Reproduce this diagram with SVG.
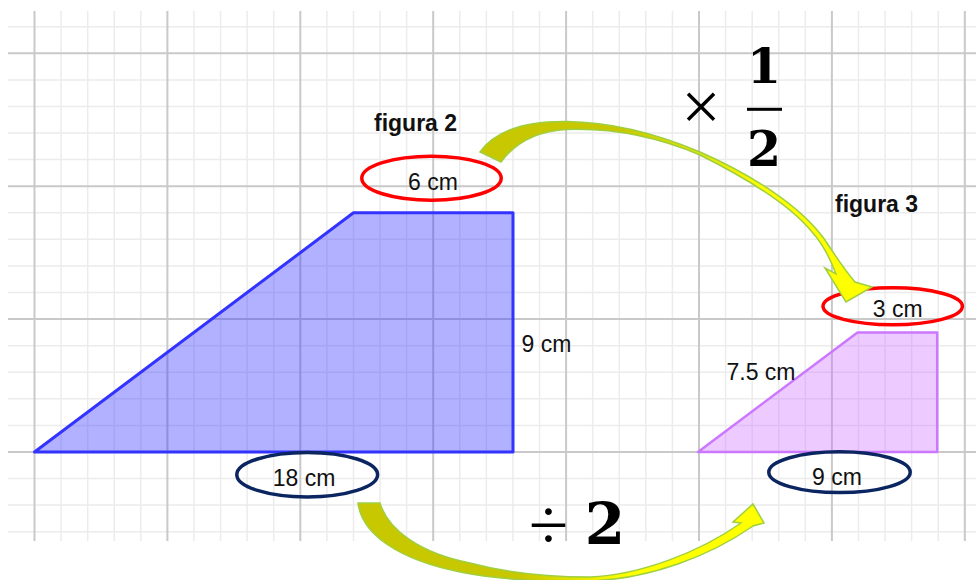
<svg xmlns="http://www.w3.org/2000/svg" width="976" height="580" viewBox="0 0 976 580">
<defs>
<style>
.minor{stroke:#ececec;stroke-width:1.5;fill:none}
.major{stroke:#c9c9c9;stroke-width:2;fill:none}
.lbl{font-family:"Liberation Sans",Arial,sans-serif;font-size:23px;fill:#111}
.ttl{font-family:"Liberation Sans",Arial,sans-serif;font-size:23px;font-weight:bold;fill:#111}
.math{font-family:"DejaVu Serif","Liberation Serif",serif;font-weight:bold;fill:#000}
.op{font-family:"Liberation Serif","DejaVu Serif",serif;fill:#000}
.red{fill:none;stroke:#ff0000;stroke-width:3.5}
.navy{fill:none;stroke:#0b2561;stroke-width:3.5}
.arrow{stroke:#9fcf40;stroke-width:1.5;stroke-linejoin:miter}
</style>
<linearGradient id="gTop" gradientUnits="userSpaceOnUse" x1="620" y1="0" x2="770" y2="0">
<stop offset="0" stop-color="#c8c800"/><stop offset="1" stop-color="#ffff00"/>
</linearGradient>
<linearGradient id="gBot" gradientUnits="userSpaceOnUse" x1="520" y1="0" x2="630" y2="0">
<stop offset="0" stop-color="#c8c800"/><stop offset="1" stop-color="#ffff00"/>
</linearGradient>
</defs>
<rect width="976" height="580" fill="#ffffff"/>
<g id="grid">
<path class="minor" d="M61.08 11V541M87.66 11V541M114.24 11V541M140.82 11V541M193.98 11V541M220.56 11V541M247.14 11V541M273.72 11V541M326.88 11V541M353.46 11V541M380.04 11V541M406.62 11V541M459.78 11V541M486.36 11V541M512.94 11V541M539.52 11V541M592.68 11V541M619.26 11V541M645.84 11V541M672.42 11V541M725.58 11V541M752.16 11V541M778.74 11V541M805.32 11V541M858.48 11V541M885.06 11V541M911.64 11V541M938.22 11V541M8 26.7H976M8 79.9H976M8 106.4H976M8 133H976M8 159.6H976M8 212.8H976M8 239.3H976M8 265.9H976M8 292.5H976M8 345.7H976M8 372.2H976M8 398.8H976M8 425.4H976M8 478.6H976M8 505.1H976M8 531.7H976"/>
<path class="major" d="M34.5 11V541M167.4 11V541M300.3 11V541M433.2 11V541M566.1 11V541M699 11V541M831.9 11V541M964.8 11V541M8 53.3H976M8 186.2H976M8 319.1H976M8 452H976"/>
</g>
<g id="figura2">
<polygon points="34.5,452 353.5,212.8 513,212.8 513,452" fill="#3333ff" fill-opacity="0.38" stroke="#3333ff" stroke-width="3" stroke-linejoin="round"/>
<text class="ttl" x="374" y="131">figura 2</text>
<text class="lbl" x="521.5" y="352">9 cm</text>
</g>
<g id="figura3">
<polygon points="698,452 857.5,332.4 937.2,332.4 937.2,452" fill="#cc66ff" fill-opacity="0.35" stroke="#cc77ff" stroke-width="2.5" stroke-linejoin="round"/>
<text class="ttl" x="835" y="212">figura 3</text>
<text class="lbl" x="726.5" y="380">7.5 cm</text>
</g>
<g id="top6">
<ellipse class="red" cx="431.5" cy="178.2" rx="69.7" ry="22"/>
<text class="lbl" x="433" y="190" text-anchor="middle">6 cm</text>
</g>
<g id="top3">
<ellipse class="red" cx="892.7" cy="306.3" rx="69.7" ry="18.5"/>
<text class="lbl" x="897.7" y="317" text-anchor="middle">3 cm</text>
</g>
<g id="base18">
<ellipse class="navy" cx="307.2" cy="474.7" rx="70.4" ry="22.2"/>
<text class="lbl" x="304" y="486" text-anchor="middle">18 cm</text>
</g>
<g id="base9">
<ellipse class="navy" cx="839.5" cy="472.2" rx="70.7" ry="20.4"/>
<text class="lbl" x="837" y="485" text-anchor="middle">9 cm</text>
</g>
<g id="times-half">
<text class="op" x="701" y="130" font-size="70" text-anchor="middle">×</text>
<text class="math" x="764" y="82.7" font-size="49" text-anchor="middle">1</text>
<rect x="747" y="107.8" width="35" height="3" fill="#000"/>
<text class="math" x="764" y="165.7" font-size="49" text-anchor="middle">2</text>
</g>
<g id="divide-two">
<text class="op" x="548.5" y="549" font-size="72" text-anchor="middle">÷</text>
<text class="math" x="605" y="544" font-size="58" text-anchor="middle">2</text>
</g>
<g id="connectors">
<path class="arrow" fill="url(#gTop)" d="M480,152 C497,128 530,121 567,121.5 C610,122 655,133 700,152 C750,174 800,205 825,240 C835,255 843,268 855,282 L872,287 L846,302 L825,268 L836,274 C830,258 822,243 812,232 C790,205 750,180 700,155 C655,136 610,128 567,129.5 C537,131 515,143 501,162 Z"/>
<path class="arrow" fill="url(#gBot)" d="M358,503 L380,503 C388,530 420,553 470,563 C500,571 540,577 590,577 C640,575 700,552 741,523 L733,522 L753,504 L764,523 L753,526 C710,556 650,579 590,581 C540,582 500,580 460,572 C400,560 362,535 358,503 Z"/>
</g>
</svg>
